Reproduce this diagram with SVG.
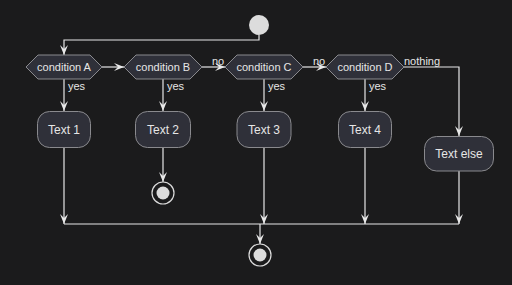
<svg xmlns="http://www.w3.org/2000/svg" width="512" height="285" viewBox="0 0 512 285">
<defs>
<marker id="ah" viewBox="0 0 10 8" markerWidth="10" markerHeight="8" refX="10" refY="4" orient="auto" markerUnits="userSpaceOnUse">
<path d="M0,0 L10,4 L0,8 L4,4 Z" fill="#e8e8e8"/>
</marker>
<style>
.bg{fill:#1b1b1c}
.cond{fill:#2f3039;stroke:#8a8a8e;stroke-width:1}
.box{fill:#2f3039;stroke:#8a8a8e;stroke-width:1}
.ln{fill:none;stroke:#e8e8e8;stroke-width:1.2}
.arr{marker-end:url(#ah)}
.t12{font-family:"Liberation Sans",Arial,sans-serif;font-size:12px;fill:#e6e6e6;text-anchor:middle}
.t11{font-family:"Liberation Sans",Arial,sans-serif;font-size:11px;fill:#e6e6e6;text-anchor:middle}
.lbl{font-family:"Liberation Sans",Arial,sans-serif;font-size:11px;fill:#e6e6e6}
.dot{fill:#dcdcdc}
.ring{fill:none;stroke:#dcdcdc;stroke-width:1.2}
</style>
</defs>
<rect class="bg" x="0" y="0" width="512" height="285"/>

<g id="connectors">
<path class="ln arr" d="M259,35 V40 H64 V55"/>
<path class="ln arr" d="M102,67 H124"/>
<path class="ln arr" d="M202,67 H225"/>
<path class="ln arr" d="M303,67 H326"/>
<path class="ln arr" d="M404,67 H459 V136"/>
<path class="ln arr" d="M64,79 V111"/>
<path class="ln arr" d="M163,79 V111"/>
<path class="ln arr" d="M264,79 V111"/>
<path class="ln arr" d="M365,79 V111"/>
<path class="ln arr" d="M64,148 V224"/>
<path class="ln arr" d="M163,148 V182"/>
<path class="ln arr" d="M264,148 V224"/>
<path class="ln arr" d="M365,148 V224"/>
<path class="ln arr" d="M459,171 V224"/>
<path class="ln" d="M64,224 H459"/>
<path class="ln arr" d="M260,224 V244"/>
<text class="lbl" x="68" y="90">yes</text>
<text class="lbl" x="167" y="90">yes</text>
<text class="lbl" x="268" y="90">yes</text>
<text class="lbl" x="369" y="90">yes</text>
<text class="lbl" x="212" y="65">no</text>
<text class="lbl" x="313" y="65">no</text>
<text class="lbl" x="404" y="65">nothing</text>
</g>

<g id="start"><circle class="dot" cx="259" cy="25" r="10"/></g>

<g id="condA"><polygon class="cond" points="26,67 38,55 90,55 102,67 90,79 38,79"/><text class="t11" x="64" y="71">condition A</text></g>
<g id="condB"><polygon class="cond" points="124,67 136,55 190,55 202,67 190,79 136,79"/><text class="t11" x="163" y="71">condition B</text></g>
<g id="condC"><polygon class="cond" points="225,67 237,55 291,55 303,67 291,79 237,79"/><text class="t11" x="264" y="71">condition C</text></g>
<g id="condD"><polygon class="cond" points="326,67 338,55 392,55 404,67 392,79 338,79"/><text class="t11" x="365" y="71">condition D</text></g>

<g id="text1"><rect class="box" x="37.5" y="111.5" width="53" height="36" rx="12"/><text class="t12" x="64" y="134">Text 1</text></g>
<g id="text2"><rect class="box" x="135.5" y="111.5" width="55" height="36" rx="12"/><text class="t12" x="163" y="134">Text 2</text></g>
<g id="text3"><rect class="box" x="237" y="111.5" width="54" height="36" rx="12"/><text class="t12" x="264" y="134">Text 3</text></g>
<g id="text4"><rect class="box" x="338.5" y="111.5" width="53" height="36" rx="12"/><text class="t12" x="365" y="134">Text 4</text></g>
<g id="textelse"><rect class="box" x="424.5" y="136.5" width="69" height="34.5" rx="12"/><text class="t12" x="459" y="158">Text else</text></g>

<g id="stop1"><circle class="ring" cx="163" cy="193" r="11"/><circle class="dot" cx="163" cy="193" r="6.5"/></g>
<g id="end"><circle class="ring" cx="260" cy="255" r="11"/><circle class="dot" cx="260" cy="255" r="6.5"/></g>
</svg>
